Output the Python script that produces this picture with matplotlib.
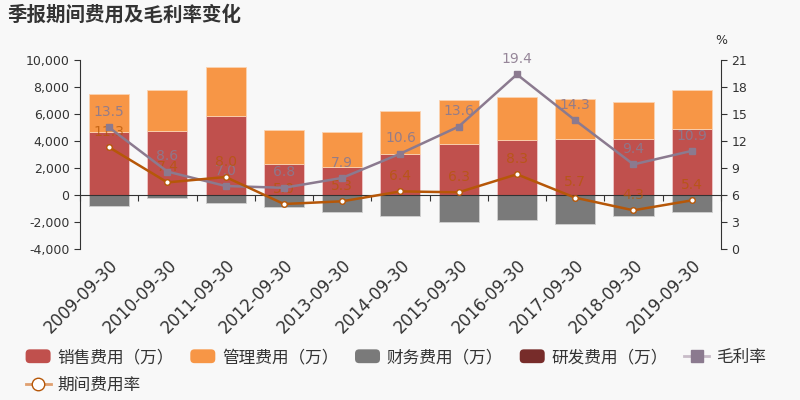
import numpy as np
import matplotlib
matplotlib.use("Agg")
import matplotlib.pyplot as plt
from matplotlib.lines import Line2D
from matplotlib.patches import Patch, FancyBboxPatch
from matplotlib.legend_handler import HandlerPatch
from matplotlib.ticker import FuncFormatter

plt.rcParams['font.family'] = ['DejaVu Sans', 'Noto Sans CJK SC']

# === DATOS ===
dates = ["2009-09-30", "2010-09-30", "2011-09-30", "2012-09-30", "2013-09-30", "2014-09-30",
         "2015-09-30", "2016-09-30", "2017-09-30", "2018-09-30", "2019-09-30"]
sales_exp = [4630, 4710, 5820, 2320, 2040, 3060, 3800, 4100, 4120, 4170, 4890]   # 销售费用
admin_exp = [2820, 3070, 3660, 2520, 2630, 3160, 3240, 3180, 3010, 2720, 2910]   # 管理费用
fin_exp = [-850, -250, -590, -920, -1240, -1530, -2030, -1830, -2150, -1590, -1260]  # 财务费用
rd_exp = [0, 0, 0, 0, 0, 0, 0, 0, 0, 0, 0]  # 研发费用
gross_margin = [13.5, 8.6, 7.0, 6.8, 7.9, 10.6, 13.6, 19.4, 14.3, 9.4, 10.9]
period_rate = [11.3, 7.4, 8.0, 5.0, 5.3, 6.4, 6.3, 8.3, 5.7, 4.3, 5.4]

C_SALES = "#c0504d"
C_ADMIN = "#f79646"
C_FIN = "#7a7a7a"
C_RD = "#772c2a"
C_GM = "#8b7a8f"
C_PR = "#b65708"
BG = "#f8f8f8"
TXT = "#333333"


class RoundHandler(HandlerPatch):
    # cuadradito con esquinas redondeadas para la leyenda
    def create_artists(self, legend, orig_handle, xdescent, ydescent, width, height, fontsize, trans):
        p = FancyBboxPatch((-xdescent, -ydescent), width, height,
                           boxstyle="round,pad=0,rounding_size=3",
                           facecolor=orig_handle.get_facecolor(), edgecolor='none', transform=trans)
        return [p]


fig = plt.figure(figsize=(8, 4), dpi=100, facecolor=BG)
ax = fig.add_axes([0.1, 0.3775, 0.801, 0.4725])
ax.set_facecolor(BG)

x = np.arange(len(dates))
w = 0.69
ax.bar(x, sales_exp, w, color=C_SALES, edgecolor="#f0c8c8", linewidth=0.6, zorder=2)
ax.bar(x, admin_exp, w, bottom=sales_exp, color=C_ADMIN, edgecolor="#fbd2b0", linewidth=0.6, zorder=2)
ax.bar(x, fin_exp, w, color=C_FIN, edgecolor="#d0d0d0", linewidth=0.6, zorder=2)
ax.bar(x, rd_exp, w, color=C_RD, zorder=2)

ax.set_xlim(-0.5, len(dates) - 0.5)
ax.set_ylim(-4000, 10000)
ax.set_yticks(np.arange(-4000, 10001, 2000))
ax.yaxis.set_major_formatter(FuncFormatter(lambda v, p: f"{int(v):,}"))
ax.tick_params(axis='y', labelsize=9, colors=TXT, length=4)

# eje x en el cero, etiquetas abajo
ax.spines['bottom'].set_position(('data', 0))
ax.spines['bottom'].set_color(TXT)
ax.spines['bottom'].set_zorder(3)
ax.set_xticks(np.arange(-0.5, len(dates), 1))
ax.set_xticklabels([])
ax.tick_params(axis='x', length=4, color=TXT)
ax.spines['top'].set_visible(False)
ax.spines['right'].set_visible(False)
ax.spines['left'].set_color(TXT)

sec = ax.secondary_xaxis(0)
sec.set_xticks(x)
sec.set_xticklabels(dates, rotation=45, ha='right', rotation_mode='anchor', fontsize=12, color=TXT)
sec.tick_params(length=0, pad=5)
sec.spines['bottom'].set_visible(False)

# eje derecho
ax2 = ax.twinx()
ax2.set_ylim(0, 21)
ax2.set_yticks(np.arange(0, 22, 3))
ax2.tick_params(axis='y', labelsize=9, colors=TXT, length=4)
for s in ['top', 'bottom', 'left']:
    ax2.spines[s].set_visible(False)
ax2.spines['right'].set_color(TXT)
ax2.text(1.0, 1.07, "%", transform=ax2.transAxes, fontsize=9, color=TXT, ha='center', va='bottom')

ax2.plot(x, gross_margin, color=C_GM, lw=1.8, marker='s', ms=4, zorder=4)
ax2.plot(x, period_rate, color=C_PR, lw=1.8, marker='o', ms=4, mfc='white', mec=C_PR, mew=1, zorder=5)
for xi, v in zip(x, gross_margin):
    ax2.annotate(f"{v:.1f}", (xi, v), xytext=(0, 6), textcoords='offset points',
                 ha='center', va='bottom', fontsize=10, color=C_GM, alpha=0.9)
for xi, v in zip(x, period_rate):
    ax2.annotate(f"{v:.1f}", (xi, v), xytext=(0, 6), textcoords='offset points',
                 ha='center', va='bottom', fontsize=10, color=C_PR, alpha=0.75)

fig.text(0.009, 0.963, "季报期间费用及毛利率变化", fontsize=14, fontweight='bold', color=TXT,
         ha='left', va='center')

# leyenda (orden por columnas para que salga por filas)
h_sales = Patch(facecolor=C_SALES, label="销售费用（万）")
h_admin = Patch(facecolor=C_ADMIN, label="管理费用（万）")
h_fin = Patch(facecolor=C_FIN, label="财务费用（万）")
h_rd = Patch(facecolor=C_RD, label="研发费用（万）")
h_gm = Line2D([], [], color="#c8bcc8", lw=2, marker='s', ms=8, mfc=C_GM, mec=C_GM, label="毛利率")
h_pr = Line2D([], [], color="#e0a070", lw=2, marker='o', ms=9, mfc='white', mec=C_PR, label="期间费用率")
handles = [h_sales, h_pr, h_admin, h_fin, h_rd, h_gm]
fig.legend(handles=handles, labels=[h.get_label() for h in handles], ncol=5,
           loc='upper left', bbox_to_anchor=(0.032, 0.13), frameon=False,
           fontsize=12, labelcolor=TXT, handlelength=1.5, handleheight=0.9,
           handletextpad=0.4, columnspacing=1.0, labelspacing=0.6, borderaxespad=0, borderpad=0,
           handler_map={Patch: RoundHandler()})

fig.savefig("out.png", dpi=100, facecolor=BG)
